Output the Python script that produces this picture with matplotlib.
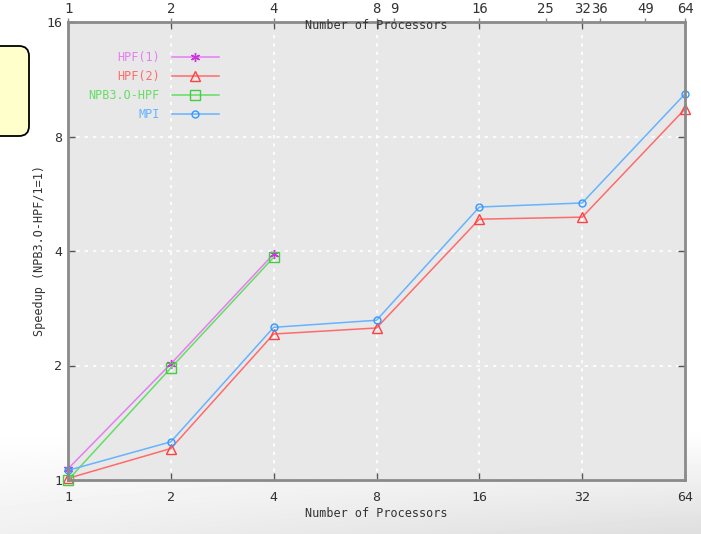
import matplotlib
matplotlib.use("Agg")
import matplotlib.pyplot as plt
from matplotlib.patches import FancyBboxPatch
import numpy as np

plt.rcParams['font.family'] = ['DejaVu Sans Mono']

# data
procs = [1, 2, 4, 8, 16, 32, 64]
procs_short = [1, 2, 4]
hpf1 = [1.07, 2.02, 3.93]
npb_hpf = [1.0, 1.97, 3.85]
hpf2 = [1.01, 1.21, 2.42, 2.51, 4.85, 4.91, 9.45]
mpi = [1.06, 1.26, 2.52, 2.63, 5.22, 5.35, 10.35]

x_ticks = [1, 2, 4, 8, 16, 32, 64]
top_ticks = [1, 2, 4, 8, 9, 16, 25, 32, 36, 49, 64]
y_ticks = [1, 2, 4, 8, 16]

fig = plt.figure(figsize=(7.01, 5.34), dpi=100)

# slide background: white with a soft grey shadow at the bottom
bg = fig.add_axes([0, 0, 1, 1], zorder=-5)
yy, xx = np.mgrid[0:534, 0:701]
shade = np.clip((yy - 430) / 104.0, 0, 1) * (0.45 + 0.55 * xx / 701.0)
img = 1 - 0.13 * shade
bg.imshow(img, cmap='gray', vmin=0, vmax=1, aspect='auto', extent=[0, 701, 534, 0])
bg.set_xlim(0, 701)
bg.set_ylim(534, 0)
bg.axis('off')
box = FancyBboxPatch((-40, 46), 69, 90, boxstyle="round,pad=0,rounding_size=10",
                     fc='#ffffcc', ec='black', lw=1.3)
bg.add_patch(box)

ax = fig.add_axes([68 / 701, 1 - 480 / 534, 617 / 701, 458 / 534])
ax.set_facecolor('#e8e8e8')

ax.plot(procs_short, hpf1, color='#e57ef0', lw=1.1, marker=(6, 2, 0), ms=6.5,
        mec='#cc33dd', mew=1.0, clip_on=False, label='HPF(1)')
ax.plot(procs, hpf2, color='#ff6b6b', lw=1.1, marker='^', ms=6.5, mfc='none',
        mec='#ff4040', mew=1.0, clip_on=False, label='HPF(2)')
ax.plot(procs_short, npb_hpf, color='#66dd66', lw=1.1, marker='s', ms=6.5, mfc='none',
        mec='#44cc44', mew=1.0, clip_on=False, label='NPB3.O-HPF')
ax.plot(procs, mpi, color='#66b3ff', lw=1.1, marker='o', ms=5, mfc='none',
        mec='#3399ff', mew=1.0, clip_on=False, label='MPI')

ax.set_xscale('log', base=2)
ax.set_yscale('log', base=2)
ax.set_xlim(1, 64)
ax.set_ylim(1, 16)
ax.set_xticks(x_ticks)
ax.set_xticklabels([str(t) for t in x_ticks])
ax.set_yticks(y_ticks)
ax.set_yticklabels([str(t) for t in y_ticks])
ax.minorticks_off()
ax.tick_params(axis='both', direction='in', length=5, width=1, color='#555555',
               labelsize=9.5, labelcolor='#333333', top=True, right=True)
ax.tick_params(axis='x', pad=8)
ax.tick_params(axis='y', pad=4)
ax.grid(True, color='white', ls=(0, (2, 3)), lw=1.2)
for s in ax.spines.values():
    s.set_color('#8a8a8a')
    s.set_linewidth(2)

ax.set_xlabel('Number of Processors', fontsize=8.5, color='#333333', labelpad=2)
ax.set_ylabel('Speedup (NPB3.O-HPF/1=1)', fontsize=8.5, color='#333333', labelpad=0)

# top axis with the extra processor counts
sec = ax.secondary_xaxis('top')
sec.set_xticks(top_ticks)
sec.set_xticklabels([str(t) for t in top_ticks])
sec.minorticks_off()
sec.tick_params(length=3, width=1, color='#888888', labelsize=10, labelcolor='#333333', pad=1)
sec.spines['top'].set_visible(False)
ax.text(0.5, 0.992, 'Number of Processors', transform=ax.transAxes, ha='center', va='center',
        fontsize=8.5, color='#333333')

leg = ax.legend(loc='upper left', bbox_to_anchor=(0.016, 0.96), markerfirst=False, frameon=False,
                labelcolor='linecolor', fontsize=8.5, handlelength=4.0, handletextpad=1.0,
                labelspacing=0.5)

fig.savefig('out.png', dpi=100)
